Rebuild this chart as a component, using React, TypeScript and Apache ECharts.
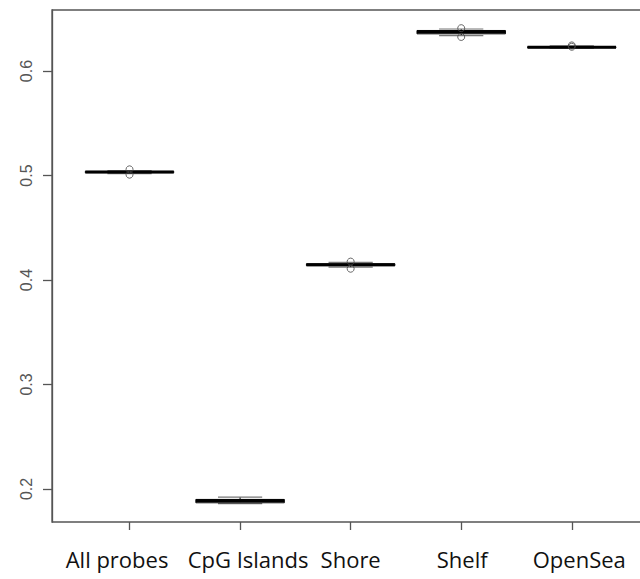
import React, { useEffect, useRef } from "react";
import * as echarts from "echarts";

const categories = ["All probes", "CpG Islands", "Shore", "Shelf", "OpenSea"];
const lowerWhisker = [0.5019, 0.186, 0.4123, 0.6338, 0.6219];
const q1 = [0.5027, 0.1868, 0.4137, 0.6356, 0.6223];
const median = [0.5033, 0.1888, 0.4146, 0.6373, 0.6227];
const q3 = [0.5039, 0.19, 0.4155, 0.6388, 0.6232];
const upperWhisker = [0.5047, 0.1923, 0.4168, 0.6402, 0.624];
const outlierCat = [0, 0, 2, 2, 3, 3, 4, 4];
const outlierVal = [0.5059, 0.5008, 0.4176, 0.4108, 0.641, 0.6326, 0.6245, 0.6232];
const yTicks = [0.2, 0.3, 0.4, 0.5, 0.6];
const yMin = 0.1684;
const yMax = 0.6584;

// horizontal nudges of the category labels (px, negative = left)
const labelShift = [-12.5, 8, 0, 1, 7.5];

export default function App() {
  const ref = useRef<HTMLDivElement>(null);
  useEffect(() => {
    document.body.style.overflow = "hidden";
    const chart = echarts.init(ref.current!, null, { renderer: "svg" });
    const boxData = categories.map((_, i) => [
      i,
      lowerWhisker[i],
      q1[i],
      median[i],
      q3[i],
      upperWhisker[i],
    ]);
    const outData = outlierCat.map((c, i) => [c, outlierVal[i]]);
    const rich: any = {};
    labelShift.forEach((s, i) => {
      rich["s" + i] = {
        fontFamily: "Open Sans",
        fontSize: 22,
        color: "#111",
        padding: s < 0 ? [0, -2 * s, 0, 0] : [0, 0, 0, 2 * s],
      };
    });
    const option: any = {
      animation: false,
      backgroundColor: "#fff",
      grid: [
        {
          left: 52,
          top: 10,
          width: 597,
          height: 512,
          show: true,
          borderColor: "#555",
          borderWidth: 1.3,
          backgroundColor: "transparent",
        },
        { left: 74.25, top: 10, width: 552.8, height: 512 },
      ],
      xAxis: [
        { type: "value", gridIndex: 0, min: 0.3, max: 5.7, show: false },
        {
          type: "category",
          gridIndex: 1,
          data: categories,
          boundaryGap: true,
          axisLine: { show: false },
          axisTick: {
            show: true,
            alignWithLabel: true,
            length: 8,
            lineStyle: { color: "#555", width: 1.3 },
          },
          axisLabel: {
            margin: 26,
            fontFamily: "Open Sans",
            fontSize: 22,
            color: "#111",
            interval: 0,
            formatter: (v: string, idx: number) => `{s${idx}|${v}}`,
            rich,
          },
        },
      ],
      yAxis: [
        {
          type: "value",
          gridIndex: 0,
          min: yMin,
          max: yMax,
          splitLine: { show: false },
          axisLine: { show: true, lineStyle: { color: "#555", width: 1.3 } },
          axisTick: {
            show: true,
            length: 9,
            customValues: yTicks,
            lineStyle: { color: "#555", width: 1.3 },
          },
          axisLabel: {
            customValues: yTicks,
            rotate: 90,
            margin: 18,
            fontFamily: "Liberation Sans",
            fontSize: 16,
            color: "#555",
            formatter: (v: number) => v.toFixed(1),
          },
        },
        { type: "value", gridIndex: 1, min: yMin, max: yMax, show: false },
      ],
      series: [
        {
          type: "custom",
          xAxisIndex: 1,
          yAxisIndex: 1,
          data: boxData,
          encode: { x: 0, y: [1, 2, 3, 4, 5] },
          renderItem: (params: any, api: any) => {
            const i = api.value(0);
            const lo = api.coord([i, api.value(1)]);
            const b1 = api.coord([i, api.value(2)]);
            const md = api.coord([i, api.value(3)]);
            const b3 = api.coord([i, api.value(4)]);
            const hi = api.coord([i, api.value(5)]);
            const band = api.size([1, 0])[0];
            const half = band * 0.4;
            const sh = band * 0.2;
            const x = md[0];
            return {
              type: "group",
              children: [
                {
                  type: "line",
                  shape: { x1: x, y1: b3[1], x2: x, y2: hi[1] },
                  style: { stroke: "#000", lineWidth: 1, lineDash: [3, 3] },
                },
                {
                  type: "line",
                  shape: { x1: x, y1: b1[1], x2: x, y2: lo[1] },
                  style: { stroke: "#000", lineWidth: 1, lineDash: [3, 3] },
                },
                {
                  type: "line",
                  shape: { x1: x - sh, y1: hi[1], x2: x + sh, y2: hi[1] },
                  style: { stroke: "#777", lineWidth: 1.2 },
                },
                {
                  type: "line",
                  shape: { x1: x - sh, y1: lo[1], x2: x + sh, y2: lo[1] },
                  style: { stroke: "#777", lineWidth: 1.2 },
                },
                {
                  type: "rect",
                  shape: {
                    x: x - half,
                    y: b3[1],
                    width: half * 2,
                    height: b1[1] - b3[1],
                  },
                  style: { fill: "#fff", stroke: "#000", lineWidth: 1 },
                },
                {
                  type: "line",
                  shape: { x1: x - half, y1: md[1], x2: x + half, y2: md[1] },
                  style: { stroke: "#000", lineWidth: 3 },
                },
              ],
            };
          },
        },
        {
          type: "scatter",
          xAxisIndex: 1,
          yAxisIndex: 1,
          data: outData,
          symbol: "circle",
          symbolSize: 7,
          itemStyle: { color: "transparent", borderColor: "#444", borderWidth: 1 },
          z: 5,
        },
      ],
    };
    chart.setOption(option);
    return () => chart.dispose();
  }, []);
  return (
    <div
      ref={ref}
      style={{ position: "fixed", left: 0, top: 0, width: 660, height: 579 }}
    />
  );
}
